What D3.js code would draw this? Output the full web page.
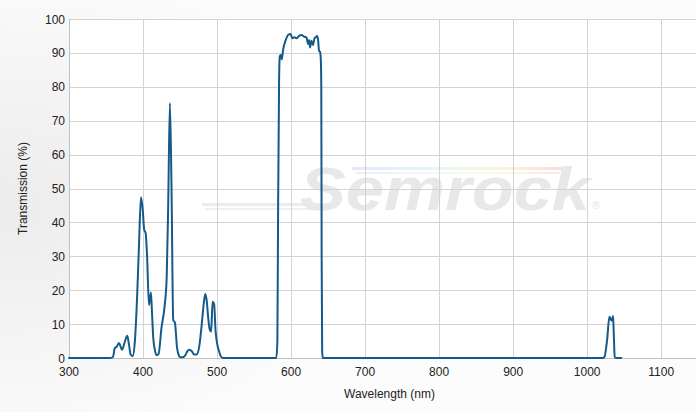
<!DOCTYPE html>
<html><head><meta charset="utf-8">
<script src="https://cdn.jsdelivr.net/npm/d3@7"></script>
<style>html,body{margin:0;padding:0;background:#fff;}svg{display:block;font-family:"Liberation Sans",Arial,sans-serif;}</style>
</head><body>
<svg id="chart" width="696" height="412"></svg>
<script>
// Data (wavelength nm, transmission %)
const wavelengths = [300,355,359.4,362,364,367.5,369.5,371.5,375,378.7,381,383.3,386,389,392,394.5,397.2,399.5,401.6,403.5,405.5,408,410.7,412,413.8,416,418.3,421,425,429.5,432,434,436.3,438.5,440.8,443,446,448,449.8,453.8,457,460,462.3,466,469,472.3,476,479,482,484,486,488,490,492,494,496,498,500,502.8,505,508,
  580,581.5,582.5,583.8,584.7,586.1,587.4,589.2,592.8,595.9,599.2,601.9,604.6,607.3,610.8,614,617.5,620.8,622.9,624.3,625.6,627.5,629.7,631.6,633.3,635.1,636.5,637.8,639.1,640.1,640.8,641.3,642,642.8,
  1021,1023.3,1026.9,1030,1031.8,1033.2,1035,1035.9,1037.2,1039,1046];
const transmission = [0,0,0.3,3,3.2,4.4,3.5,2.4,4.5,6.6,4,1,0.6,5,18,33,47.4,44,37.8,36.9,30,15.6,19.3,14,6,2.4,0.8,1.2,9,16,24,45,75.2,50,11.2,10.5,3,1,0.3,0.2,0.8,2,2.4,2,1,1,3.5,9.2,16,18.9,17,12,8.5,7.8,16.6,16,8,4.4,1.9,0.5,0,
  0,5,45,82,88.9,89.4,88.1,90.9,93.8,95.3,95.6,94.3,94.6,94.3,95,95.3,94.8,94.6,92.6,93.8,91.6,93.6,92.3,94.3,94.6,95,93.8,90.6,90.3,88.4,80,30,2,0,
  0,0.3,5.3,12.2,11.4,11,12.4,7.4,0.3,0,0];
const xTicks = [300,400,500,600,700,800,900,1000,1100];
const yTicks = [0,10,20,30,40,50,60,70,80,90,100];
const xTitle = "Wavelength (nm)";
const yTitle = "Transmission (%)";

const svg = d3.select("#chart");
const W = 696, H = 412;
const m = {left:69, right:696, top:19, bottom:358};

// background gradient
const defs = svg.append("defs");
const bg = defs.append("radialGradient").attr("id","bg").attr("cx","0").attr("cy","0.5").attr("r","0.6");
bg.append("stop").attr("offset","0").attr("stop-color","#ececec");
bg.append("stop").attr("offset","1").attr("stop-color","#fcfcfc");
svg.append("rect").attr("width",W).attr("height",H).attr("fill","url(#bg)");
svg.append("rect").attr("x",m.left).attr("y",m.top).attr("width",m.right-m.left).attr("height",m.bottom-m.top).attr("fill","#fff");

const x = d3.scaleLinear().domain([300,1147]).range([m.left,m.right]);
const y = d3.scaleLinear().domain([0,100]).range([m.bottom,m.top]);

// watermark
const wm = svg.append("g").attr("pointer-events","none");
const rb = defs.append("linearGradient").attr("id","rb").attr("x1","0").attr("x2","1");
[["0","#e6e6f8"],["0.3","#e4f4fa"],["0.55","#f0f8e4"],["0.75","#fbf2dc"],["1","#f8dcdc"]].forEach(s=>rb.append("stop").attr("offset",s[0]).attr("stop-color",s[1]));
wm.append("rect").attr("x",352).attr("y",167).attr("width",210).attr("height",3).attr("fill","url(#rb)");
wm.append("rect").attr("x",356).attr("y",172).attr("width",204).attr("height",2).attr("fill","url(#rb)").attr("opacity",0.7);
wm.append("rect").attr("x",202).attr("y",203).attr("width",118).attr("height",3).attr("fill","#ebebeb");
wm.append("rect").attr("x",205).attr("y",208).attr("width",112).attr("height",2).attr("fill","#efefef");
wm.append("text").attr("x",300).attr("y",210).attr("font-size",62).attr("font-weight","bold").attr("font-style","italic")
  .attr("font-family","'Liberation Sans',Arial,sans-serif").attr("fill","#e8e8e8")
  .attr("textLength",290).attr("lengthAdjust","spacingAndGlyphs").text("Semrock");
wm.append("text").attr("x",592).attr("y",209).attr("font-size",11).attr("fill","#e6e6e6").text("®");

// grid
const g = svg.append("g");
g.selectAll(".hg").data(yTicks).join("line").attr("x1",m.left).attr("x2",m.right)
  .attr("y1",d=>Math.round(y(d))+0.5).attr("y2",d=>Math.round(y(d))+0.5).attr("stroke","#d3d3d3").attr("stroke-width",1);
g.selectAll(".vg").data(xTicks.slice(1)).join("line").attr("y1",m.top).attr("y2",m.bottom)
  .attr("x1",d=>Math.round(x(d))+0.5).attr("x2",d=>Math.round(x(d))+0.5).attr("stroke","#d3d3d3").attr("stroke-width",1);
g.append("line").attr("x1",m.left+0.5).attr("x2",m.left+0.5).attr("y1",m.top).attr("y2",m.bottom).attr("stroke","#c0c0c0");
g.append("line").attr("x1",m.left).attr("x2",m.right).attr("y1",m.bottom+0.5).attr("y2",m.bottom+0.5).attr("stroke","#c0c0c0");

// axes labels
g.selectAll(".yl").data(yTicks).join("text").attr("x",65).attr("y",d=>y(d)+4.5).attr("text-anchor","end")
  .attr("font-size",12).attr("fill","#222").text(d=>d);
g.selectAll(".xl").data(xTicks).join("text").attr("x",d=>x(d)).attr("y",376).attr("text-anchor","middle")
  .attr("font-size",12).attr("fill","#222").text(d=>d);
svg.append("text").attr("x",(m.left+m.right)/2+7).attr("y",398).attr("text-anchor","middle").attr("font-size",12).attr("fill","#222").text(xTitle);
svg.append("text").attr("transform",`translate(27,${(m.top+m.bottom)/2}) rotate(-90)`).attr("text-anchor","middle")
  .attr("font-size",12).attr("fill","#222").text(yTitle);

// series
const data = wavelengths.map((w,i)=>[w,transmission[i]]);
svg.append("path").datum(data).attr("fill","none").attr("stroke","#155a8a").attr("stroke-width",2)
  .attr("stroke-linejoin","round").attr("stroke-linecap","round")
  .attr("d",d3.line().x(d=>x(d[0])).y(d=>y(d[1])).curve(d3.curveMonotoneX));
</script>
</body></html>
